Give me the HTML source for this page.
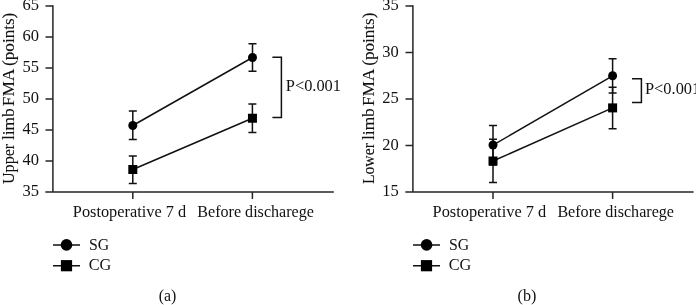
<!DOCTYPE html>
<html>
<head>
<meta charset="utf-8">
<title>FMA chart</title>
<style>
html,body{margin:0;padding:0;background:#fff;}
body{width:696px;height:305px;overflow:hidden;}
svg{display:block;filter:grayscale(1);}
svg{font-family:"Liberation Serif",serif;font-size:16.5px;}
text{fill:#111;}
.ln{stroke:#111;stroke-width:1.5;fill:none;}
.ax{stroke:#262626;stroke-width:1.5;fill:none;}
.mk{fill:#000;}
</style>
</head>
<body>
<svg width="696" height="305" viewBox="0 0 696 305">
<rect width="696" height="305" fill="#fff"/>

<!-- ============ chart (a) ============ -->
<g>
  <!-- axes -->
  <path class="ax" d="M52.9 5.3V192.7M45.3 192H333.8"/>
  <path class="ax" d="M45.5 6H52.9M45.5 37H52.9M45.5 68H52.9M45.5 99H52.9M45.5 130H52.9M45.5 161H52.9"/>
  <path class="ax" d="M132.8 192V199M252.4 192V199"/>
  <!-- y tick labels -->
  <g text-anchor="end">
    <text x="38.9" y="10.1">65</text>
    <text x="38.9" y="41.1">60</text>
    <text x="38.9" y="72.1">55</text>
    <text x="38.9" y="103.1">50</text>
    <text x="38.9" y="134.1">45</text>
    <text x="38.9" y="165.1">40</text>
    <text x="38.9" y="196.1">35</text>
  </g>
  <!-- y label -->
  <g transform="translate(14.2 183.5) rotate(-90)" style="font-size:16px;stroke:#111;stroke-width:0.1">
    <text x="-0.5" y="0" textLength="40.2" lengthAdjust="spacingAndGlyphs">Upper</text>
    <text x="43.4" y="0" textLength="31.8" lengthAdjust="spacingAndGlyphs">limb</text>
    <text x="77.3" y="0" textLength="37.4" lengthAdjust="spacingAndGlyphs">FMA</text>
    <text x="117.6" y="0" textLength="53.2" lengthAdjust="spacingAndGlyphs">(points)</text>
  </g>
  <!-- x labels -->
  <text x="72.8" y="216.7" textLength="113.4" lengthAdjust="spacingAndGlyphs">Postoperative 7 d</text>
  <text x="197.3" y="216.7" textLength="116.6" lengthAdjust="spacingAndGlyphs">Before discharege</text>
  <!-- series lines -->
  <path class="ln" d="M132.8 125.5L252.5 57.5"/>
  <path class="ln" d="M132.8 169.5L252.4 118.2"/>
  <!-- error bars -->
  <path class="ln" d="M132.8 111V139.6M128.8 111H136.8M128.8 139.6H136.8"/>
  <path class="ln" d="M252.5 43.7V71.3M248.5 43.7H256.5M248.5 71.3H256.5"/>
  <path class="ln" d="M132.8 156V183.6M128.8 156H136.8M128.8 183.6H136.8"/>
  <path class="ln" d="M252.4 103.9V132.4M248.4 103.9H256.4M248.4 132.4H256.4"/>
  <!-- markers -->
  <circle class="mk" cx="132.8" cy="125.5" r="4.5"/>
  <circle class="mk" cx="252.5" cy="57.5" r="4.5"/>
  <rect class="mk" x="128.3" y="165" width="9" height="9"/>
  <rect class="mk" x="247.95" y="113.75" width="9" height="9"/>
  <!-- bracket -->
  <path class="ln" d="M272.4 57.2H281.4V117.4H272.4"/>
  <text x="285.8" y="91.1" textLength="55.2" lengthAdjust="spacingAndGlyphs">P&lt;0.001</text>
  <!-- legend -->
  <path class="ln" d="M53 244.9H80M53 265.7H80"/>
  <circle class="mk" cx="66.5" cy="244.9" r="5.8"/>
  <rect class="mk" x="60.9" y="260.1" width="11.2" height="11.2"/>
  <text x="88.9" y="249.5" textLength="20.2" lengthAdjust="spacingAndGlyphs">SG</text>
  <text x="88.7" y="269.6" textLength="22.6" lengthAdjust="spacingAndGlyphs">CG</text>
  <text x="158.8" y="300.7" textLength="17.6" lengthAdjust="spacingAndGlyphs">(a)</text>
</g>

<!-- ============ chart (b) ============ -->
<g>
  <path class="ax" d="M412.9 5.3V192.7M405.3 192H693.6"/>
  <path class="ax" d="M405.5 6H412.9M405.5 52.5H412.9M405.5 99H412.9M405.5 145.5H412.9"/>
  <path class="ax" d="M493 192V199M612.6 192V199"/>
  <g text-anchor="end">
    <text x="398.7" y="10.1">35</text>
    <text x="398.7" y="56.6">30</text>
    <text x="398.7" y="103.1">25</text>
    <text x="398.7" y="149.6">20</text>
    <text x="398.7" y="196.1">15</text>
  </g>
  <g transform="translate(374.2 183.8) rotate(-90)" style="font-size:16px;stroke:#111;stroke-width:0.1">
    <text x="-0.3" y="0" textLength="41" lengthAdjust="spacingAndGlyphs">Lower</text>
    <text x="43.8" y="0" textLength="31.8" lengthAdjust="spacingAndGlyphs">limb</text>
    <text x="77.7" y="0" textLength="37.4" lengthAdjust="spacingAndGlyphs">FMA</text>
    <text x="118" y="0" textLength="53.2" lengthAdjust="spacingAndGlyphs">(points)</text>
  </g>
  <text x="432.6" y="217.2" textLength="113.6" lengthAdjust="spacingAndGlyphs">Postoperative 7 d</text>
  <text x="557.4" y="217.2" textLength="116.6" lengthAdjust="spacingAndGlyphs">Before discharege</text>
  <path class="ln" d="M493 145.1L612.6 75.8"/>
  <path class="ln" d="M493 161L612.6 107.9"/>
  <path class="ln" d="M493 125.4V165M489 125.4H497M489 165H497"/>
  <path class="ln" d="M612.6 58.8V93M608.6 58.8H616.6M608.6 93H616.6"/>
  <path class="ln" d="M493 139.3V182.5M489 139.3H497M489 182.5H497"/>
  <path class="ln" d="M612.6 87.3V128.7M608.6 87.3H616.6M608.6 128.7H616.6"/>
  <circle class="mk" cx="493" cy="145" r="4.5"/>
  <circle class="mk" cx="612.6" cy="75.8" r="4.5"/>
  <rect class="mk" x="488.5" y="156.5" width="9" height="9"/>
  <rect class="mk" x="608.1" y="103.4" width="9" height="9"/>
  <path class="ln" d="M632 78.8H641.4V102.5H632"/>
  <text x="645" y="94.4" textLength="55.2" lengthAdjust="spacingAndGlyphs">P&lt;0.001</text>
  <path class="ln" d="M413 244.9H440M413 265.7H440"/>
  <circle class="mk" cx="426.6" cy="244.9" r="5.8"/>
  <rect class="mk" x="420.9" y="260.1" width="11.2" height="11.2"/>
  <text x="448.9" y="249.5" textLength="20.2" lengthAdjust="spacingAndGlyphs">SG</text>
  <text x="448.7" y="269.6" textLength="22.6" lengthAdjust="spacingAndGlyphs">CG</text>
  <text x="517.6" y="300.7" textLength="18.8" lengthAdjust="spacingAndGlyphs">(b)</text>
</g>
</svg>
</body>
</html>
